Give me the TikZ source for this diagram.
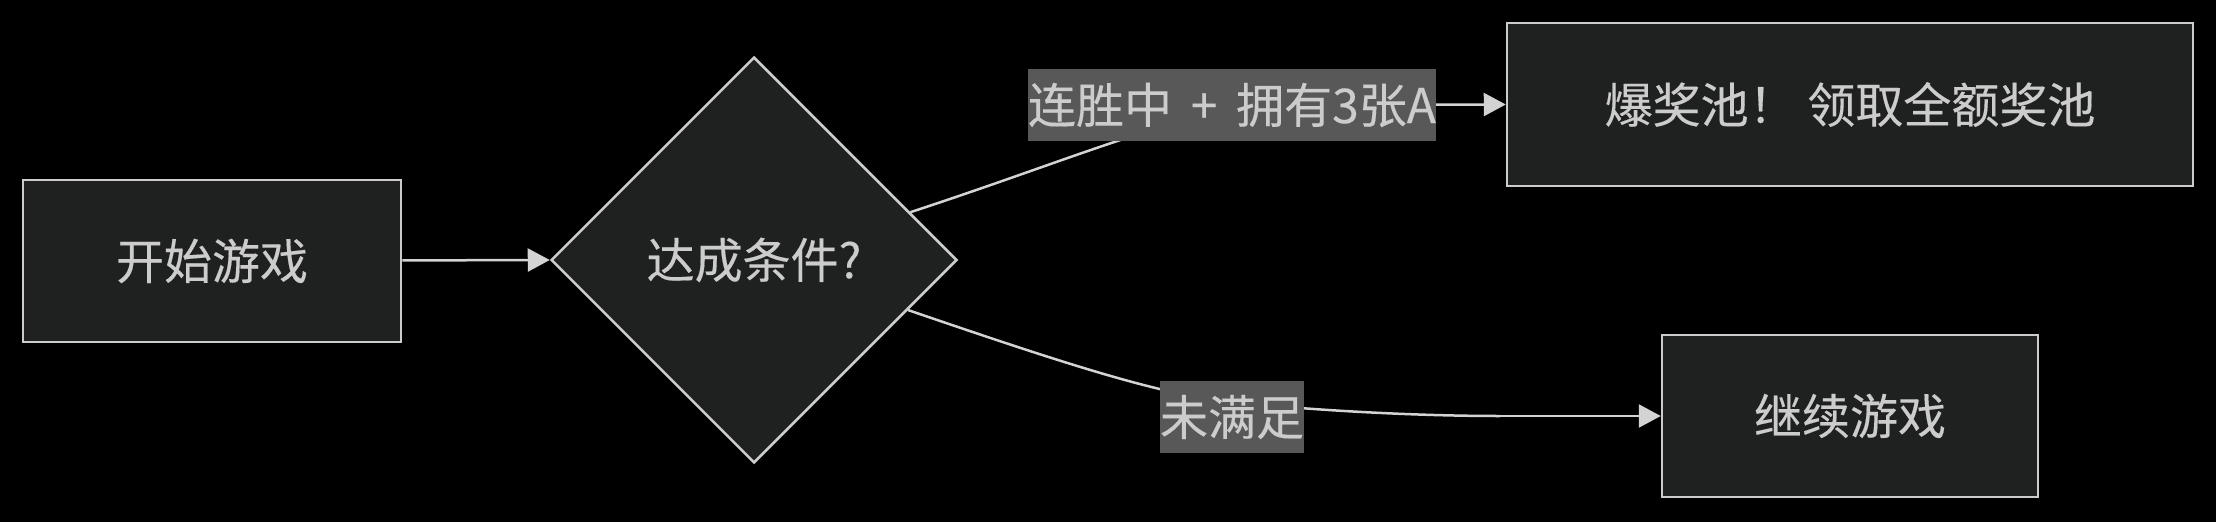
\documentclass[tikz,border=0pt]{standalone}
\usepackage{fontspec}
\setmainfont{Noto Sans CJK SC}[FakeBold=0.3]
\usetikzlibrary{shapes.geometric,arrows.meta}
\definecolor{nodefill}{HTML}{1F2020}
\definecolor{nodeline}{HTML}{CCCCCC}
\definecolor{txt}{HTML}{CCCCCC}
\definecolor{edgeline}{HTML}{D3D3D3}
\definecolor{lblbg}{HTML}{585858}
\tikzset{
  box/.style={draw=nodeline, fill=nodefill, line width=2.5pt, text=txt, inner sep=0pt, font=\fontsize{48pt}{72pt}\selectfont},
  decision/.style={diamond, aspect=1, draw=nodeline, fill=nodefill, line width=2.5pt, text=txt, inner sep=0pt, minimum width=406pt, minimum height=406pt, font=\fontsize{48pt}{72pt}\selectfont},
  elabel/.style={fill=lblbg, text=txt, inner xsep=0pt, inner ysep=0pt, minimum height=72pt, font=\fontsize{48pt}{72pt}\selectfont},
  conn/.style={draw=edgeline, line width=2.5pt, -{Triangle[length=22pt,width=23pt]}, fill=edgeline}
}
\begin{document}
\begin{tikzpicture}[x=1pt,y=-1pt]
\fill[black] (0,0) rectangle (2216,522);
\useasboundingbox (0,0) rectangle (2216,522);
\node[box, minimum width=378pt, minimum height=162pt] (start) at (212,261) {开始游戏};
\node[decision] (d) at (754,260) {达成条件?};
\node[box, minimum width=686pt, minimum height=163pt] (jack) at (1850,104.5) {爆奖池！ 领取全额奖池};
\node[box, minimum width=376pt, minimum height=162pt] (cont) at (1850,416) {继续游戏};
\coordinate (c1) at (1300,105);
\coordinate (c2) at (1500,416);
\draw[conn] (start) -- (d.west);
\draw[draw=edgeline, line width=2.5pt] (d.17) .. controls (1100,150) and (1190,105) .. (c1);
\draw[conn] (c1) -- (jack.west);
\draw[draw=edgeline, line width=2.5pt] (d.-18) .. controls (1060,362) and (1160,395) .. (1232,402) .. controls (1320,411) and (1420,416) .. (c2);
\draw[conn] (c2) -- (cont.west);
\node[elabel] (l1) at (1232,105) {连胜中 \,+\, 拥有3张A};
\node[elabel] (l2) at (1232,417) {未满足};
\end{tikzpicture}
\end{document}
